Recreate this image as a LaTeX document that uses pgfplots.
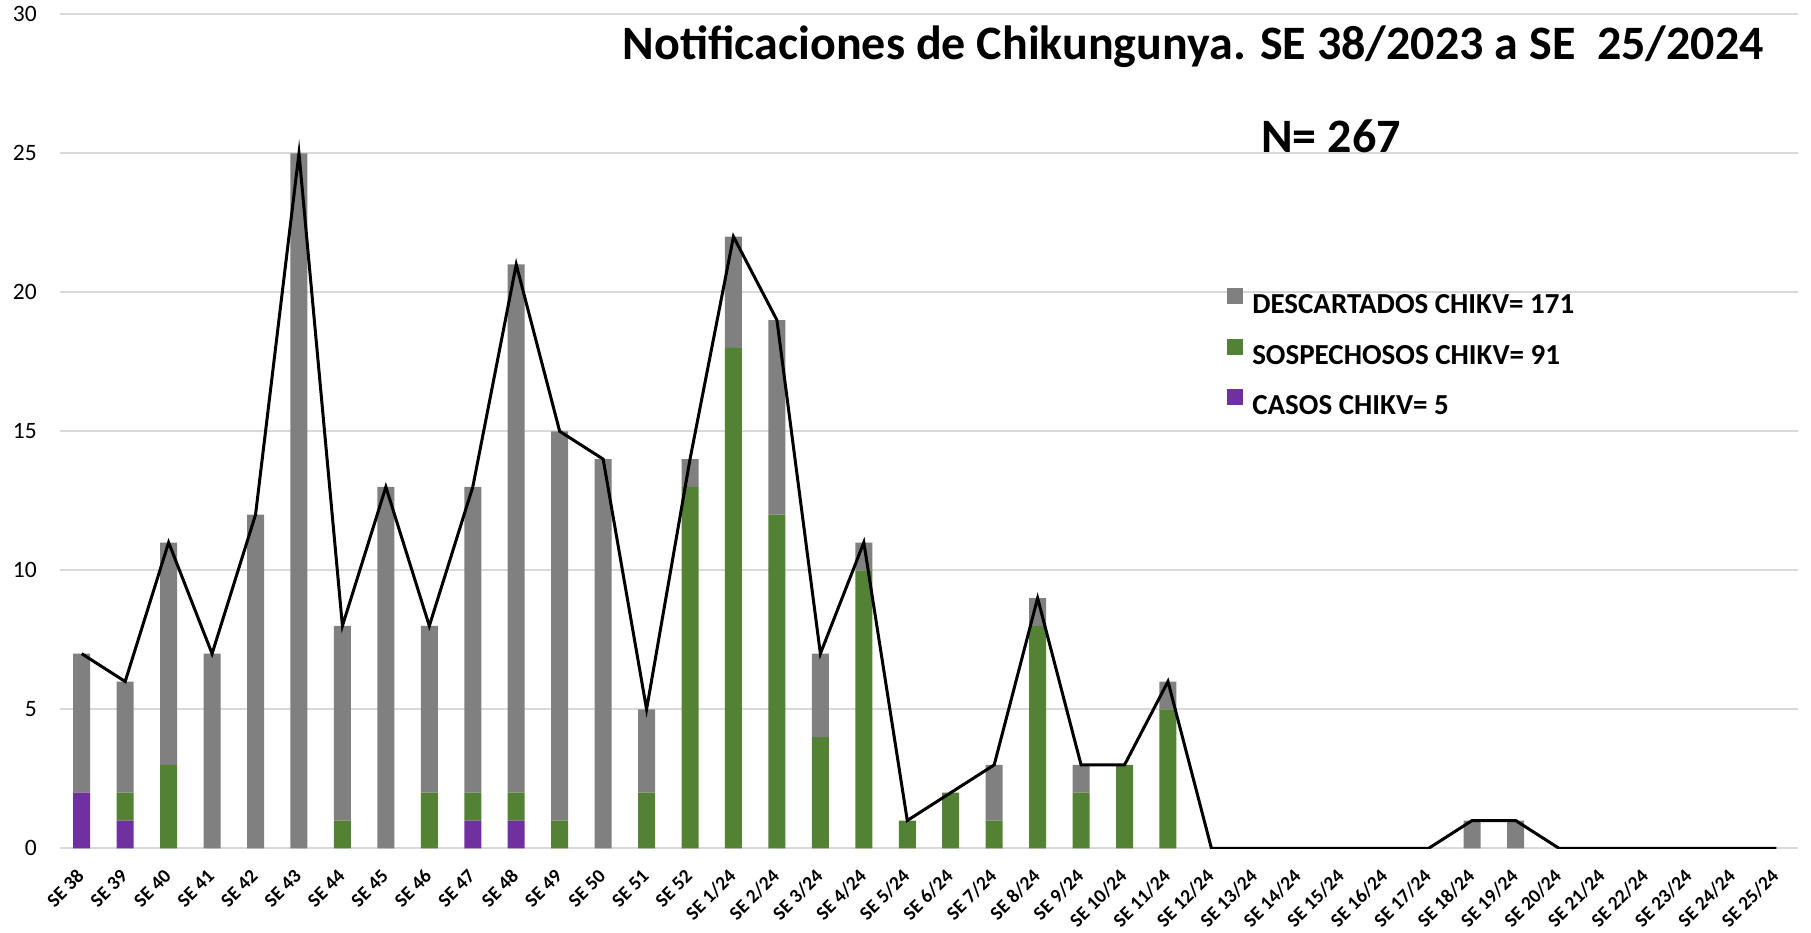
\documentclass[border=0pt]{standalone}
\usepackage{fontspec}
\setmainfont{Carlito}
\usepackage{pgfplots}
\usepackage{pgfplotstable}
\pgfplotsset{compat=1.18}
\usetikzlibrary{calc}
\definecolor{descgray}{HTML}{808080}
\definecolor{sospgreen}{HTML}{548235}
\definecolor{casospurple}{HTML}{7030A0}
\definecolor{gridc}{HTML}{D9D9D9}

% semana, casos, sospechosos, descartados, total
\pgfplotstableread{
x casos sosp desc total
0  2 0  5  7
1  1 1  4  6
2  0 3  8 11
3  0 0  7  7
4  0 0 12 12
5  0 0 25 25
6  0 1  7  8
7  0 0 13 13
8  0 2  6  8
9  1 1 11 13
10 1 1 19 21
11 0 1 14 15
12 0 0 14 14
13 0 2  3  5
14 0 13 1 14
15 0 18 4 22
16 0 12 7 19
17 0 4  3  7
18 0 10 1 11
19 0 1  0  1
20 0 2  0  2
21 0 1  2  3
22 0 8  1  9
23 0 2  1  3
24 0 3  0  3
25 0 5  1  6
26 0 0  0  0
27 0 0  0  0
28 0 0  0  0
29 0 0  0  0
30 0 0  0  0
31 0 0  0  0
32 0 0  1  1
33 0 0  1  1
34 0 0  0  0
35 0 0  0  0
36 0 0  0  0
37 0 0  0  0
38 0 0  0  0
39 0 0  0  0
}\datos

\pgfplotsset{
  se axis/.style={
    width=1738pt, height=834pt, scale only axis,
    xmin=-0.5, xmax=39.5, ymin=0, ymax=30,
  }
}

\begin{document}
\begin{tikzpicture}
\begin{axis}[
  se axis,
  name=ax,
  ybar stacked,
  bar width=17pt,
  ytick={0,5,...,30},
  xtick={0,...,39},
  xticklabels={SE 38,SE 39,SE 40,SE 41,SE 42,SE 43,SE 44,SE 45,SE 46,SE 47,SE 48,SE 49,SE 50,SE 51,SE 52,
    SE 1/24,SE 2/24,SE 3/24,SE 4/24,SE 5/24,SE 6/24,SE 7/24,SE 8/24,SE 9/24,SE 10/24,
    SE 11/24,SE 12/24,SE 13/24,SE 14/24,SE 15/24,SE 16/24,SE 17/24,SE 18/24,SE 19/24,SE 20/24,
    SE 21/24,SE 22/24,SE 23/24,SE 24/24,SE 25/24},
  ymajorgrids,
  grid style={gridc, line width=2pt},
  axis line style={draw=none},
  major tick length=0pt,
  /pgf/number format/assume math mode=true,
  yticklabel style={font=\fontsize{23.5}{28}\selectfont, anchor=east, inner sep=0pt},
  yticklabel shift=23pt,
  xticklabel style={font=\bfseries\fontsize{19.5}{23}\selectfont, rotate=45, anchor=east,
    inner sep=0pt, text height=13pt, text depth=3pt},
  xticklabel shift=26pt,
  reverse legend,
  legend image code/.code={\fill[#1] (0pt,0pt) rectangle (16pt,16pt);},
  legend style={at={(rel axis cs:0.6715,0.672)}, anchor=north west, draw=none, fill=none,
    row sep=25pt, column sep=9pt, inner sep=0pt,
    nodes={inner sep=0pt, text height=19pt, text depth=0pt,
      font=\bfseries\fontsize{29}{34}\selectfont}},
  legend cell align=left,
]
\addplot[fill=casospurple, draw=none] table[x=x, y=casos] {\datos};
\addlegendentry{CASOS CHIKV= 5}
\addplot[fill=sospgreen, draw=none] table[x=x, y=sosp] {\datos};
\addlegendentry{SOSPECHOSOS CHIKV= 91}
\addplot[fill=descgray, draw=none] table[x=x, y=desc] {\datos};
\addlegendentry{DESCARTADOS CHIKV= 171}

\node[anchor=base, font=\bfseries\fontsize{48}{56}\selectfont]
  at (rel axis cs:0.652,0.9452) {Notificaciones de Chikungunya. SE 38/2023 a SE\ \ 25/2024};
\node[anchor=base, font=\bfseries\fontsize{48}{56}\selectfont]
  at (rel axis cs:0.7313,0.8337) {N= 267};
\end{axis}

\begin{axis}[
  se axis,
  hide axis,
  at={(ax.south west)}, anchor=south west,
]
\addplot[black, line width=3pt, mark=none] table[x=x, y=total] {\datos};
\end{axis}

\pgfresetboundingbox
\path ($(ax.south west)+(-60pt,-83.7pt)$) rectangle ($(ax.north east)+(13pt,14.3pt)$);
\end{tikzpicture}
\end{document}
